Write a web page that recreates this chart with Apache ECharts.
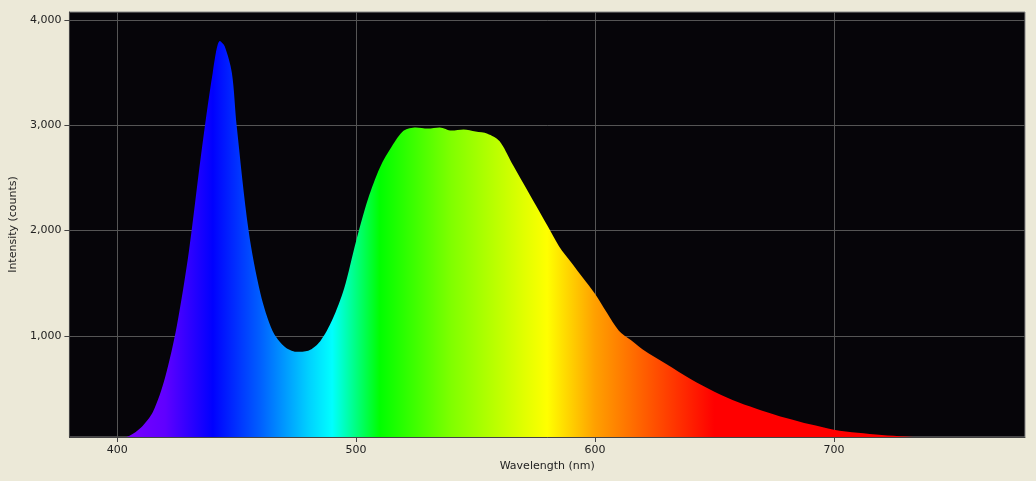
<!DOCTYPE html>
<html>
<head>
<meta charset="utf-8">
<script src="https://cdn.jsdelivr.net/npm/echarts@6/dist/echarts.min.js"></script>
<style>
  html, body { margin: 0; padding: 0; background: #ece9d8; }
  #chart { width: 1036px; height: 481px; }
</style>
</head>
<body>
<div id="chart"></div>
<script>
// wavelength (nm) and intensity (counts)
const wavelengths = [380, 390, 395, 400, 405, 410, 415, 420, 425, 430, 435, 440, 443, 445, 448, 450, 455, 460, 465, 470, 475, 480, 485, 490, 495, 500, 505, 510, 515, 520, 525, 530, 535, 540, 545, 550, 555, 560, 565, 570, 575, 580, 585, 590, 595, 600, 605, 610, 615, 620, 630, 640, 650, 660, 670, 680, 690, 700, 710, 720, 730, 740, 750, 760, 770, 780];
const intensity = [0, 0, 5, 20, 50, 130, 280, 600, 1100, 1800, 2700, 3500, 3800, 3750, 3500, 3000, 2000, 1400, 1050, 900, 850, 860, 950, 1150, 1450, 1900, 2300, 2600, 2800, 2950, 2980, 2970, 2980, 2950, 2960, 2940, 2920, 2850, 2650, 2450, 2250, 2050, 1850, 1700, 1550, 1400, 1220, 1050, 960, 870, 730, 590, 470, 370, 290, 220, 160, 110, 80, 60, 45, 30, 20, 10, 5, 0];
const yTicks = [1000, 2000, 3000, 4000];
const xTicks = [400, 500, 600, 700];

// spectral colours along the wavelength axis
const spectrum = [
  [380, '#5a00a0'], [400, '#8000ff'], [420, '#6000ff'], [440, '#0000ff'],
  [460, '#0060ff'], [480, '#00d0ff'], [490, '#00ffff'], [500, '#00ff80'],
  [510, '#00ff00'], [540, '#80ff00'], [570, '#e0ff00'], [580, '#ffff00'],
  [600, '#ffa000'], [620, '#ff6000'], [640, '#ff2000'], [650, '#ff0000'], [780, '#ff0000']
];
const xMin = 380, xMax = 780;
const stops = spectrum.map(([w, c]) => ({ offset: (w - xMin) / (xMax - xMin), color: c }));

const chart = echarts.init(document.getElementById('chart'));
chart.setOption({
  backgroundColor: '#ece9d8',
  textStyle: { fontFamily: 'DejaVu Sans' },
  grid: { left: 53, right: 11, top: 12, bottom: 44, show: true, backgroundColor: '#060509', borderColor: '#888', borderWidth: 1 },
  xAxis: {
    type: 'value', min: xMin, max: xMax,
    name: 'Wavelength (nm)', nameLocation: 'middle', nameGap: 24,
    nameTextStyle: { color: '#222', fontSize: 11 },
    axisLine: { lineStyle: { color: '#444' } },
    axisTick: { customValues: xTicks, lineStyle: { color: '#444' } },
    axisLabel: { customValues: xTicks, color: '#222', fontSize: 11 },
    splitLine: { show: true, lineStyle: { color: '#555', width: 1 } }
  },
  yAxis: {
    type: 'value', min: 40, max: 4076,
    name: 'Intensity (counts)', nameLocation: 'middle', nameGap: 40,
    nameTextStyle: { color: '#222', fontSize: 11 },
    axisLine: { show: true, lineStyle: { color: '#444' } },
    axisTick: { show: true, customValues: yTicks, lineStyle: { color: '#444' } },
    axisLabel: { customValues: yTicks, color: '#222', fontSize: 11 },
    splitLine: { show: true, lineStyle: { color: '#555', width: 1 } }
  },
  series: [{
    type: 'line',
    data: wavelengths.map((w, i) => [w, intensity[i]]),
    smooth: 0.3,
    symbol: 'none',
    lineStyle: { width: 0 },
    areaStyle: {
      opacity: 1,
      color: new echarts.graphic.LinearGradient(0, 0, 1, 0, stops)
    },
    z: 1
  }]
});
</script>
</body>
</html>
